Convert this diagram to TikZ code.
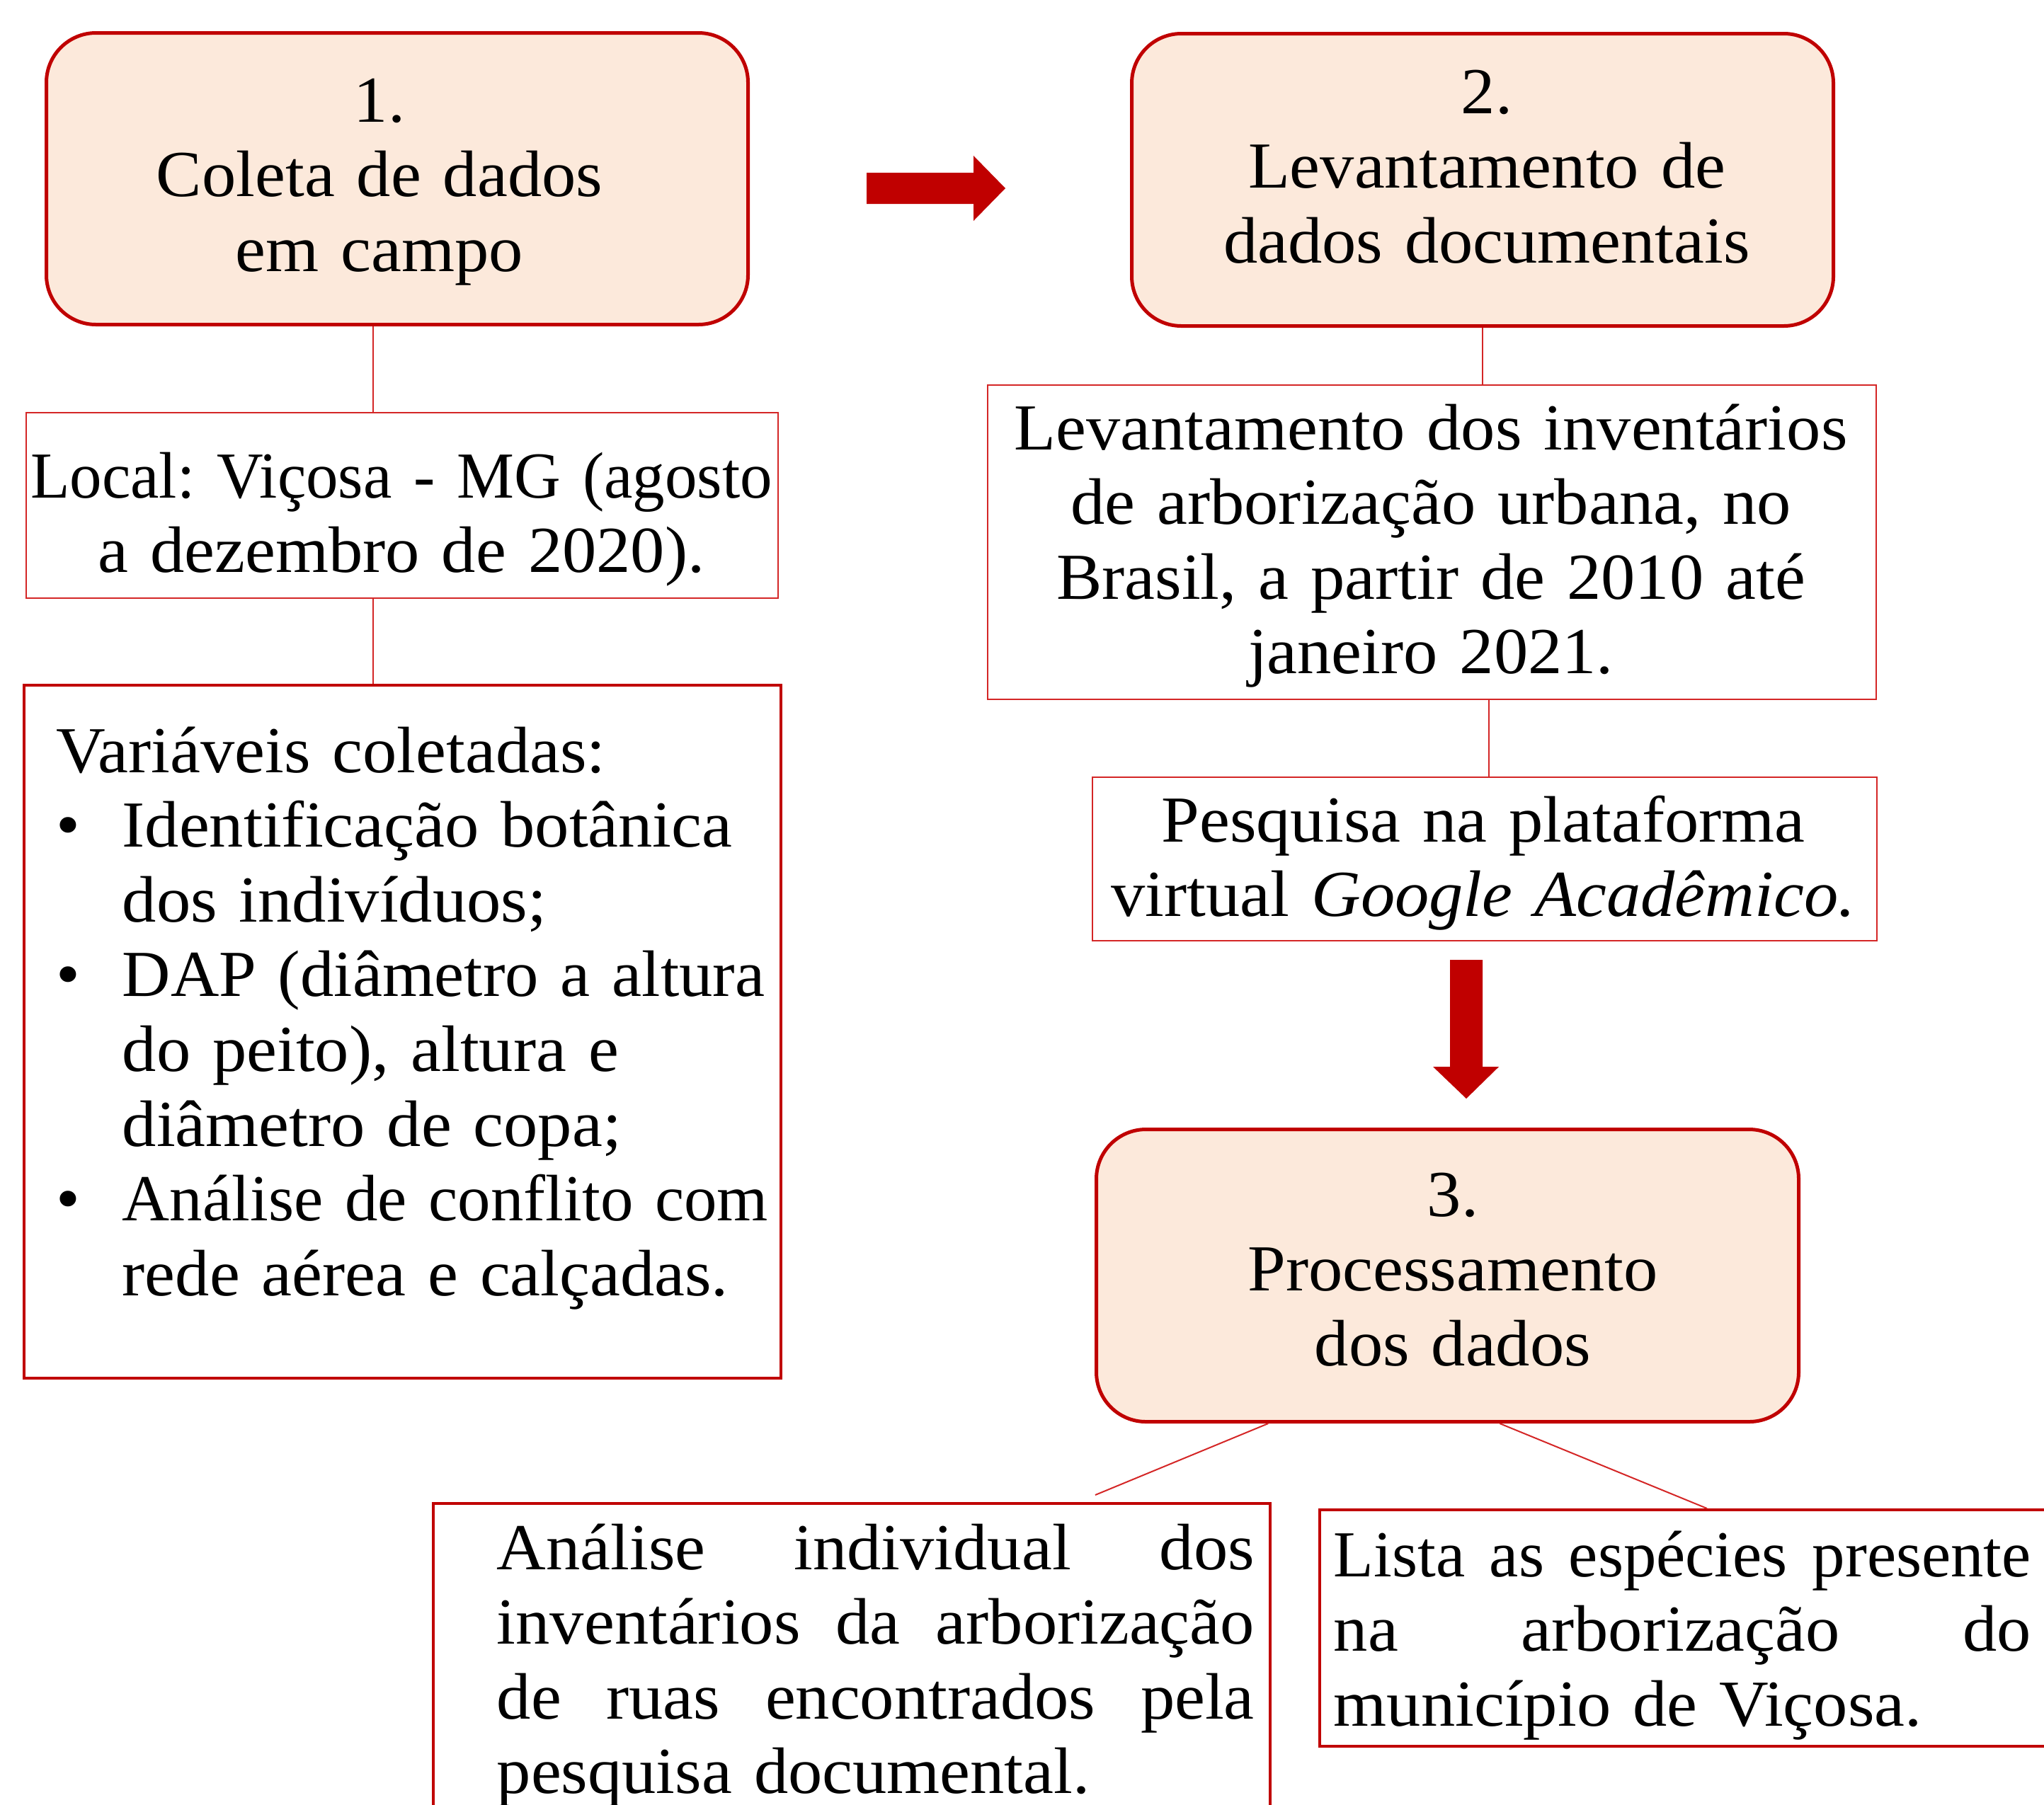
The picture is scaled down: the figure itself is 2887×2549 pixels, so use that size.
\documentclass[tikz,border=0pt]{standalone}
\usepackage{fontspec}
\setmainfont{Liberation Serif}[FakeStretch=1.04]
\newfontfamily\narrowf{Liberation Serif}
\newfontfamily\narrowerf{Liberation Serif}[FakeStretch=0.98]
\newfontfamily\midf{Liberation Serif}[FakeStretch=1.02]
\usetikzlibrary{calc}
\definecolor{dred}{RGB}{192,0,0}
\definecolor{tred}{RGB}{212,38,38}
\definecolor{peach}{RGB}{252,233,219}
\tikzset{
  rbox/.style={draw=dred, line width=1.25pt, fill=peach, rounded corners=17.5pt, inner sep=0pt, anchor=north west},
  thinbox/.style={draw=tred, line width=0.5pt, inner sep=0pt, anchor=north west},
  thickbox/.style={draw=dred, line width=1pt, inner sep=0pt, anchor=north west},
  conn/.style={draw=tred, line width=0.5pt},
  txt/.style={font=\fontsize{23.2}{26.4}\selectfont\frenchspacing, inner sep=0pt, anchor=base},
}
\newcommand\jline[2]{\leavevmode\hbox to #1{#2}}
\begin{document}
\begin{tikzpicture}[x=0.25pt,y=-0.25pt]
\useasboundingbox (0,0) rectangle (2887,2549);
\clip (0,0) rectangle (2887,2549);
% boxes
\node[rbox, minimum width=247.75pt, minimum height=103pt] (b1) at (63,44) {};
\node[rbox, minimum width=247.75pt, minimum height=103.25pt] (b2) at (1596,45) {};
\node[rbox, minimum width=248pt, minimum height=103.25pt] (b3) at (1546,1593) {};
\node[thinbox, minimum width=265.5pt, minimum height=65.5pt] (local) at (36,582) {};
\node[thickbox, minimum width=267.25pt, minimum height=244.75pt] (var) at (32,966) {};
\node[thinbox, minimum width=313.75pt, minimum height=111pt] (inv) at (1394,543) {};
\node[thinbox, minimum width=277pt, minimum height=57.75pt] (pesq) at (1542,1097) {};
\node[thickbox, minimum width=295.5pt, minimum height=150pt] (anal) at (610,2122) {};
\node[thickbox, minimum width=300pt, minimum height=83.5pt] (lista) at (1862,2131) {};
% texts
\node[txt, text width=320pt, align=center] (t1) at (536,172) {1.\\Coleta de dados\\em campo};
\node[txt, text width=320pt, align=center] (t2) at (2100,160) {2.\\Levantamento de\\dados documentais};
\node[txt, text width=320pt, align=center] (t3) at (2052,1718) {3.\\Processamento\\dos dados};
\node[txt, text width=320pt, align=center] (localt) at (567,703) {{\narrowerf Local: Viçosa - MG (agosto}\\a dezembro de 2020).};
\node[txt, text width=360pt, align=center] (invt) at (2021,635) {Levantamento dos inventários\\de arborização urbana, no\\Brasil, a partir de 2010 até\\janeiro 2021.};
\node[txt, text width=340pt, align=center] (pesqt) at (2095,1189) {Pesquisa na plataforma\\virtual \textit{Google Acadêmico.}};
\node[txt, text width=320pt, align=left, anchor=base west] (vart) at (79,1091) {Variáveis coletadas:\\
\makebox[23.25pt][l]{\textbullet}Identificação botânica\\
\hspace*{23.25pt}dos indivíduos;\\
\makebox[23.25pt][l]{\textbullet}{\midf DAP (diâmetro a altura}\\
\hspace*{23.25pt}do peito), altura e\\
\hspace*{23.25pt}diâmetro de copa;\\
\makebox[23.25pt][l]{\textbullet}{\narrowf Análise de conflito com}\\
\hspace*{23.25pt}rede aérea e calçadas.};
\node[txt, text width=300pt, align=left, anchor=base west] (analt) at (701,2217) {\jline{267.5pt}{Análise \hfill individual \hfill dos}\\
\jline{267.5pt}{inventários \hfill da \hfill arborização}\\
\jline{267.5pt}{de \hfill ruas \hfill encontrados \hfill pela}\\
pesquisa documental.};
\node[txt, text width=300pt, align=left, anchor=base west] (listat) at (1883,2227) {\jline{246.25pt}{\narrowf Lista \hfill as \hfill espécies \hfill presente}\\
\jline{246.25pt}{na \hfill arborização \hfill do}\\
município de Viçosa.};
% connectors
\coordinate (c1) at ($(b1.south west)!0.466!(b1.south east)$);
\draw[conn] (c1) -- (c1 |- local.north);
\draw[conn] (c1 |- local.south) -- (c1 |- var.north);
\draw[conn] (b2.south) -- (b2.south |- inv.north);
\coordinate (c2) at ($(inv.south west)!0.564!(inv.south east)$);
\draw[conn] (c2) -- (c2 |- pesq.north);
\draw[conn] ($(b3.south west)!0.246!(b3.south east)$) -- ($(anal.north west)!0.79!(anal.north east)+(0,-10)$);
\draw[conn] ($(b3.south west)!0.574!(b3.south east)$) -- ($(lista.north west)!0.456!(lista.north east)$);
% block arrows
\coordinate (ha) at (1224,266);
\coordinate (hb) at (1420,266);
\fill[dred] (ha) ++(0,-22) -- ++(151,0) -- ++(0,-24) -- (hb) -- ++(-45,46) -- ++(0,-24) -- ++(-151,0) -- cycle;
\coordinate (va) at (2071,1356);
\coordinate (vb) at (2071,1552);
\fill[dred] (va) ++(-23,0) -- ++(46,0) -- ++(0,151) -- ++(23,0) -- (vb) -- ++(-47,-45) -- ++(24,0) -- cycle;
\end{tikzpicture}
\end{document}
